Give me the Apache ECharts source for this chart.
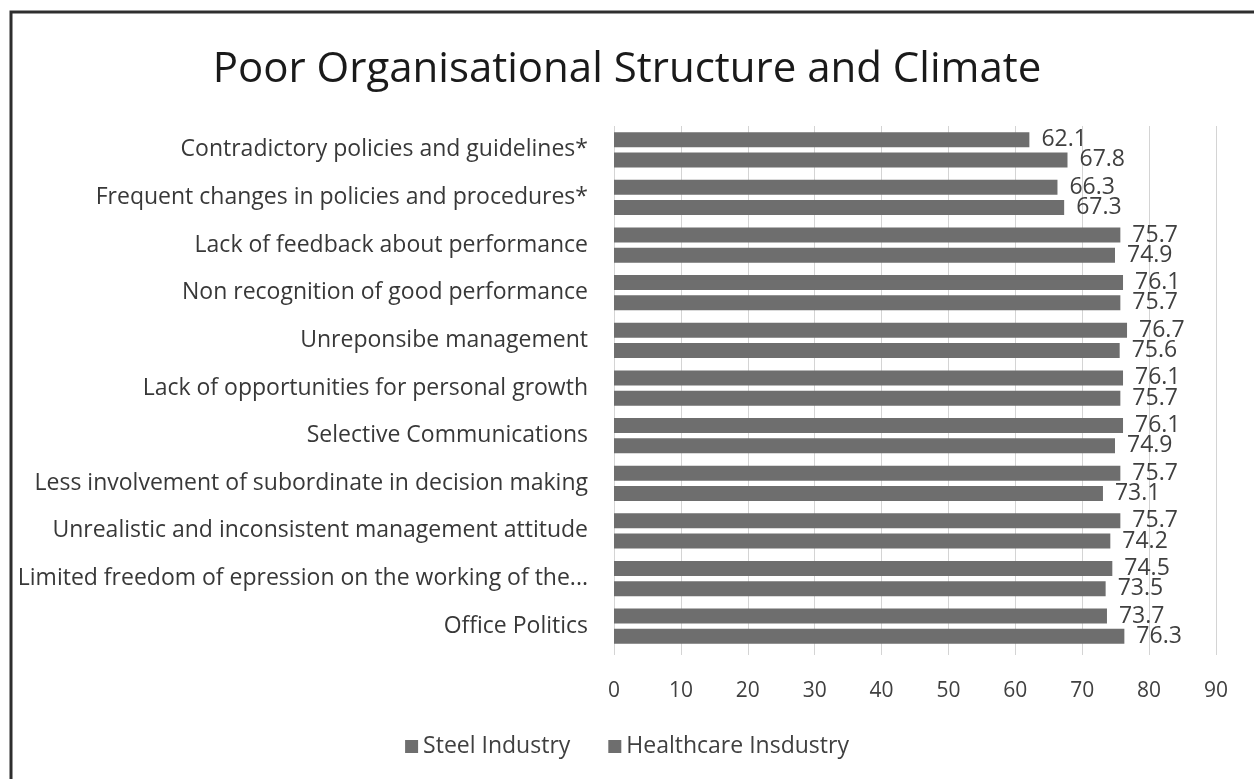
<!DOCTYPE html>
<html>
<head>
<meta charset="utf-8">
<script src="https://cdn.jsdelivr.net/npm/echarts@6/dist/echarts.min.js"></script>
<style>
  html, body { margin: 0; padding: 0; background: #fff; }
  #chart { width: 1254px; height: 779px; }
</style>
</head>
<body>
<div id="chart"></div>
<script>
// Factors of poor organisational structure and climate, top to bottom
const categories = [
  'Contradictory policies and guidelines*',
  'Frequent changes in policies and procedures*',
  'Lack of feedback about performance',
  'Non recognition of good performance',
  'Unreponsibe management',
  'Lack of opportunities for personal growth',
  'Selective Communications',
  'Less involvement of subordinate in decision making',
  'Unrealistic and inconsistent management attitude',
  'Limited freedom of epression on the working of the...',
  'Office Politics'
];
const steelValues      = [62.1, 66.3, 75.7, 76.1, 76.7, 76.1, 76.1, 75.7, 75.7, 74.5, 73.7];
const healthcareValues = [67.8, 67.3, 74.9, 75.7, 75.6, 75.7, 74.9, 73.1, 74.2, 73.5, 76.3];
const seriesNames = ['Steel Industry', 'Healthcare Insdustry'];
const xTicks = { min: 0, max: 90, interval: 10 };

const FONT = '"Open Sans", "Noto Sans", sans-serif';
const BAR = '#6e6e6e';

const valueLabel = {
  show: true,
  position: 'right',
  distance: 12,
  color: '#404040',
  fontFamily: FONT,
  fontSize: 23
};

const chart = echarts.init(document.getElementById('chart'));
chart.setOption({
  backgroundColor: '#fff',
  animation: false,
  title: {
    text: 'Poor Organisational Structure and Climate',
    left: 'center',
    top: 44,
    textStyle: { fontFamily: FONT, fontSize: 42, fontWeight: 'normal', color: '#1a1a1a' }
  },
  legend: {
    bottom: 16,
    left: 'center',
    itemWidth: 13,
    itemHeight: 13,
    itemGap: 38,
    icon: 'rect',
    textStyle: { fontFamily: FONT, fontSize: 23, color: '#404040' },
    data: seriesNames
  },
  grid: { left: 614, right: 38, top: 126, bottom: 129 },
  xAxis: {
    type: 'value',
    min: xTicks.min,
    max: xTicks.max,
    interval: xTicks.interval,
    axisLine: { show: false },
    axisTick: { show: true, length: 5, lineStyle: { color: '#d4d4d4' } },
    splitLine: { show: true, lineStyle: { color: '#d4d4d4', width: 1 } },
    axisLabel: { margin: 31, fontFamily: FONT, fontSize: 21, color: '#404040' }
  },
  yAxis: {
    type: 'category',
    inverse: true,
    data: categories,
    axisLine: { show: false },
    axisTick: { show: false },
    axisLabel: { margin: 26, fontFamily: FONT, fontSize: 23, color: '#383838' }
  },
  series: [
    {
      name: seriesNames[0],
      type: 'bar',
      data: steelValues,
      barWidth: 15,
      barGap: '35%',
      itemStyle: { color: BAR },
      label: valueLabel
    },
    {
      name: seriesNames[1],
      type: 'bar',
      data: healthcareValues,
      barWidth: 15,
      barGap: '35%',
      itemStyle: { color: BAR },
      label: valueLabel
    }
  ],
  graphic: [
    {
      type: 'rect',
      shape: { x: 11, y: 12, width: 1260, height: 800 },
      style: { fill: 'none', stroke: '#2e2e2e', lineWidth: 3 },
      silent: true
    }
  ]
});
</script>
</body>
</html>
